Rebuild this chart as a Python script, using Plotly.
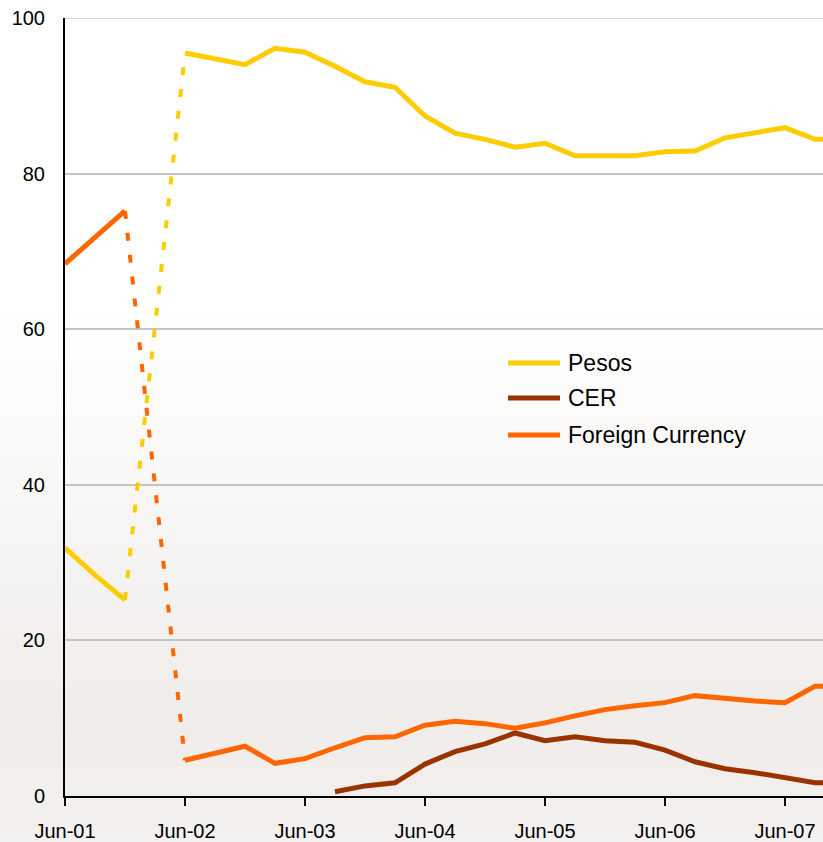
import base64
import struct
import zlib

import plotly.graph_objects as go

# Quarterly observation dates
quarters = [
    "Jun-01", "Sep-01", "Dec-01", "Mar-02", "Jun-02", "Sep-02", "Dec-02",
    "Mar-03", "Jun-03", "Sep-03", "Dec-03", "Mar-04", "Jun-04", "Sep-04",
    "Dec-04", "Mar-05", "Jun-05", "Sep-05", "Dec-05", "Mar-06", "Jun-06",
    "Sep-06", "Dec-06", "Mar-07", "Jun-07", "Sep-07", "Dec-07",
]

# Share of deposits by currency denomination (%)
pesos = [
    31.9, 28.4, 25.2, None, 95.5, 94.7, 94.0,
    96.1, 95.6, 93.8, 91.8, 91.1, 87.4, 85.2,
    84.4, 83.4, 83.9, 82.3, 82.3, 82.3, 82.8,
    82.9, 84.6, 85.2, 85.9, 84.4, 84.4,
]
cer = [
    None, None, None, None, None, None, None,
    None, None, 0.55, 1.3, 1.7, 4.1, 5.7,
    6.7, 8.1, 7.1, 7.6, 7.1, 6.9, 5.9,
    4.4, 3.5, 3.0, 2.3, 1.7, 1.7,
]
foreign = [
    68.4, 71.7, 75.2, None, 4.6, 5.5, 6.4,
    4.2, 4.8, 6.2, 7.5, 7.6, 9.1, 9.6,
    9.3, 8.7, 9.4, 10.3, 11.1, 11.6, 12.0,
    12.9, 12.5, 12.2, 12.0, 14.1, 14.1,
]

# Conversion period (Dec-01 to Jun-02) shown as a dotted bridge
bridge_quarters = ["Dec-01", "Jun-02"]
pesos_bridge = [25.2, 95.5]
foreign_bridge = [75.2, 4.6]

tick_labels = ["Jun-01", "Jun-02", "Jun-03", "Jun-04", "Jun-05", "Jun-06", "Jun-07"]
y_ticks = [0, 20, 40, 60, 80, 100]

series_names = ["Pesos", "CER", "Foreign Currency"]
series_colors = ["#FFCC00", "#993300", "#FF6600"]

W, H = 823, 842
M_L, M_R, M_T, M_B = 65, 0, 18, 46
PLOT_W = W - M_L - M_R
PLOT_H = H - M_T - M_B
FONT = "Liberation Sans, Arial, sans-serif"


def gradient_png(width, height, stops):
    """Build a vertical gradient PNG as a data URI."""
    rows = b""
    for y in range(height):
        for i in range(len(stops) - 1):
            y0, c0 = stops[i]
            y1, c1 = stops[i + 1]
            if y0 <= y <= y1:
                t = (y - y0) / (y1 - y0) if y1 > y0 else 0
                c = [round(a + (b - a) * t) for a, b in zip(c0, c1)]
                break
        else:
            c = list(stops[-1][1])
        rows += b"\x00" + bytes(c) * width

    def chunk(tag, data):
        body = tag + data
        return struct.pack(">I", len(data)) + body + struct.pack(">I", zlib.crc32(body) & 0xFFFFFFFF)

    png = b"\x89PNG\r\n\x1a\n"
    png += chunk(b"IHDR", struct.pack(">IIBBBBB", width, height, 8, 2, 0, 0, 0))
    png += chunk(b"IDAT", zlib.compress(rows, 9))
    png += chunk(b"IEND", b"")
    return "data:image/png;base64," + base64.b64encode(png).decode()


bg_stops = [
    (0, (255, 255, 255)),
    (300, (255, 255, 255)),
    (450, (250, 249, 248)),
    (600, (244, 242, 240)),
    (720, (239, 236, 233)),
    (842, (243, 241, 239)),
]

fig = go.Figure()

for name, vals, color in zip(series_names, [pesos, cer, foreign], series_colors):
    fig.add_trace(go.Scatter(
        x=quarters, y=vals, name=name, mode="lines",
        line=dict(color=color, width=5),
        connectgaps=False, showlegend=False, hoverinfo="x+y+name",
    ))

for vals, color in [(pesos_bridge, series_colors[0]), (foreign_bridge, series_colors[2])]:
    fig.add_trace(go.Scatter(
        x=bridge_quarters, y=vals, mode="lines",
        line=dict(color=color, width=4, dash="8px,14px"),
        showlegend=False, hoverinfo="skip",
    ))


def px_to_paper(px, py):
    return (px - M_L) / PLOT_W, (H - M_B - py) / PLOT_H


# Top gridline at 100 (the axis edge)
shapes = [dict(type="line", xref="paper", yref="y", x0=0, x1=1, y0=100, y1=100,
               line=dict(color="#C4C4C4", width=1.5), layer="below")]
annotations = []

# Legend block drawn as line samples with text labels
legend_rows = [363, 398, 435]
for name, color, row in zip(series_names, series_colors, legend_rows):
    x0, y0 = px_to_paper(508, row)
    x1, _ = px_to_paper(560, row)
    shapes.append(dict(type="line", xref="paper", yref="paper",
                       x0=x0, x1=x1, y0=y0, y1=y0,
                       line=dict(color=color, width=5)))
    tx, ty = px_to_paper(566, row)
    annotations.append(dict(xref="paper", yref="paper", x=tx, y=ty,
                            text=name, showarrow=False,
                            xanchor="left", yanchor="middle",
                            font=dict(family=FONT, size=23, color="#000000")))

img_x = -M_L / PLOT_W
img_y = 1 + M_T / PLOT_H

fig.update_layout(
    width=W, height=H,
    margin=dict(l=M_L, r=M_R, t=M_T, b=M_B, pad=0),
    paper_bgcolor="#FFFFFF",
    plot_bgcolor="rgba(0,0,0,0)",
    showlegend=False,
    font=dict(family=FONT, size=20, color="#000000"),
    shapes=shapes,
    annotations=annotations,
    images=[dict(source=gradient_png(4, H, bg_stops), xref="paper", yref="paper",
                 x=img_x, y=img_y, sizex=W / PLOT_W, sizey=H / PLOT_H,
                 xanchor="left", yanchor="top", sizing="stretch", layer="below")],
    xaxis=dict(
        type="category", categoryorder="array", categoryarray=quarters,
        range=[0, PLOT_W / 30.0],
        tickmode="array", tickvals=tick_labels, ticktext=tick_labels,
        ticks="outside", ticklen=8, tickwidth=1.5, tickcolor="#000000",
        showline=True, linecolor="#000000", linewidth=2,
        showgrid=False, zeroline=False,
        ticklabelstandoff=8,
        tickfont=dict(family=FONT, size=20, color="#000000"),
    ),
    yaxis=dict(
        range=[0, 100], tickvals=y_ticks,
        ticks="", showline=True, linecolor="#000000", linewidth=2,
        showgrid=True, gridcolor="#C4C4C4", gridwidth=1.5,
        zeroline=False,
        ticklabelstandoff=14,
        tickfont=dict(family=FONT, size=20, color="#000000"),
    ),
)

fig.write_html("out.html")
